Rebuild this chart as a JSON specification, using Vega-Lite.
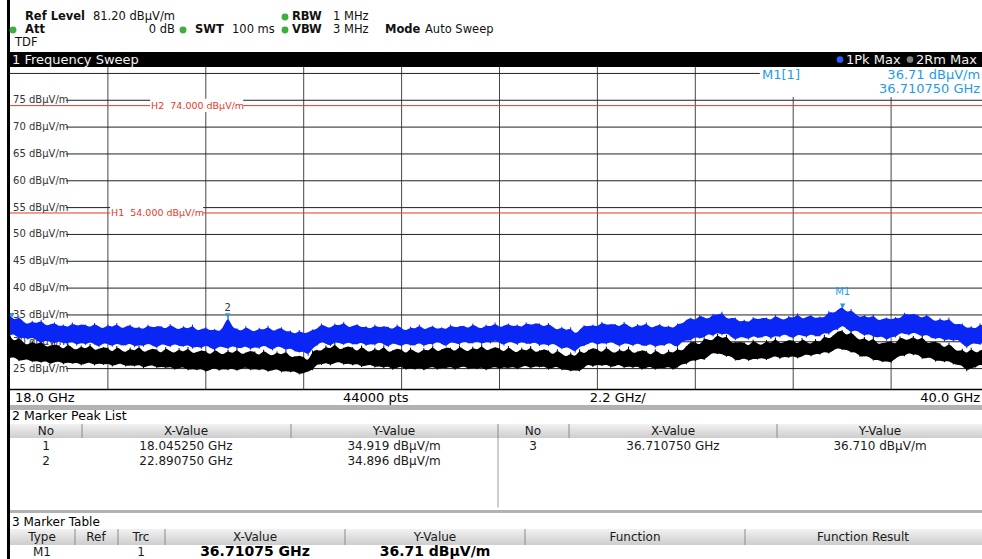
{
"$schema":"https://vega.github.io/schema/vega-lite/v6.json",
"padding":{"left":7,"top":0,"right":0,"bottom":0},
"background":"#ffffff",
"spacing":0,
"bounds":"flush",
"config":{"view":{"stroke":null},"axis":{"disable":true},"legend":{"disable":true},"font":"DejaVu Sans","concat":{"spacing":0}},
"datasets":{
"one":[{}],
"trace":[
{"f":18.0,"bu":34.9,"bl":31.2,"ku":31.1,"kl":27.0},
{"f":18.1,"bu":34.0,"bl":31.5,"ku":29.9,"kl":27.2},
{"f":18.2,"bu":34.7,"bl":30.5,"ku":30.9,"kl":26.4},
{"f":18.3,"bu":33.7,"bl":30.9,"ku":29.8,"kl":26.6},
{"f":18.4,"bu":33.2,"bl":30.4,"ku":29.3,"kl":26.8},
{"f":18.5,"bu":33.9,"bl":30.9,"ku":30.2,"kl":26.2},
{"f":18.6,"bu":33.3,"bl":30.3,"ku":29.3,"kl":26.5},
{"f":18.7,"bu":34.1,"bl":29.7,"ku":30.3,"kl":26.1},
{"f":18.8,"bu":32.9,"bl":30.3,"ku":28.9,"kl":26.5},
{"f":18.9,"bu":33.2,"bl":30.0,"ku":29.3,"kl":25.8},
{"f":19.0,"bu":33.6,"bl":29.6,"ku":29.5,"kl":26.2},
{"f":19.1,"bu":32.8,"bl":30.2,"ku":29.4,"kl":26.4},
{"f":19.2,"bu":33.2,"bl":29.7,"ku":28.4,"kl":25.8},
{"f":19.3,"bu":32.6,"bl":29.7,"ku":29.7,"kl":26.2},
{"f":19.4,"bu":33.6,"bl":30.1,"ku":28.8,"kl":25.9},
{"f":19.5,"bu":32.9,"bl":29.3,"ku":28.4,"kl":26.2},
{"f":19.6,"bu":33.2,"bl":29.9,"ku":29.3,"kl":25.6},
{"f":19.7,"bu":33.2,"bl":29.4,"ku":28.5,"kl":26.0},
{"f":19.8,"bu":32.6,"bl":30.1,"ku":29.6,"kl":26.2},
{"f":19.9,"bu":33.5,"bl":29.5,"ku":28.3,"kl":25.6},
{"f":20.0,"bu":32.8,"bl":29.0,"ku":28.7,"kl":26.0},
{"f":20.1,"bu":32.4,"bl":29.8,"ku":29.0,"kl":25.7},
{"f":20.2,"bu":33.2,"bl":29.6,"ku":28.9,"kl":26.0},
{"f":20.3,"bu":32.6,"bl":29.1,"ku":27.9,"kl":25.4},
{"f":20.4,"bu":33.5,"bl":29.8,"ku":29.2,"kl":25.8},
{"f":20.5,"bu":32.4,"bl":29.3,"ku":28.4,"kl":26.0},
{"f":20.6,"bu":32.8,"bl":29.3,"ku":27.9,"kl":25.4},
{"f":20.7,"bu":33.2,"bl":29.8,"ku":28.9,"kl":25.7},
{"f":20.8,"bu":32.4,"bl":29.0,"ku":28.1,"kl":25.4},
{"f":20.9,"bu":32.8,"bl":29.5,"ku":29.3,"kl":25.8},
{"f":21.0,"bu":32.2,"bl":29.1,"ku":27.9,"kl":25.1},
{"f":21.1,"bu":33.2,"bl":29.8,"ku":28.4,"kl":25.5},
{"f":21.2,"bu":32.6,"bl":29.3,"ku":28.7,"kl":25.7},
{"f":21.3,"bu":32.9,"bl":28.8,"ku":28.6,"kl":25.1},
{"f":21.4,"bu":32.9,"bl":29.6,"ku":27.7,"kl":25.4},
{"f":21.5,"bu":32.3,"bl":29.4,"ku":29.0,"kl":25.1},
{"f":21.6,"bu":33.3,"bl":29.0,"ku":28.2,"kl":25.4},
{"f":21.7,"bu":32.6,"bl":29.7,"ku":27.8,"kl":24.8},
{"f":21.8,"bu":32.2,"bl":29.2,"ku":28.8,"kl":25.1},
{"f":21.9,"bu":32.9,"bl":29.1,"ku":27.9,"kl":25.3},
{"f":22.0,"bu":32.3,"bl":29.5,"ku":29.0,"kl":24.7},
{"f":22.1,"bu":33.2,"bl":28.7,"ku":27.7,"kl":25.0},
{"f":22.2,"bu":32.0,"bl":29.2,"ku":28.1,"kl":24.7},
{"f":22.3,"bu":32.3,"bl":28.7,"ku":28.4,"kl":25.0},
{"f":22.4,"bu":32.7,"bl":29.4,"ku":28.3,"kl":24.4},
{"f":22.5,"bu":32.0,"bl":28.9,"ku":27.4,"kl":24.8},
{"f":22.6,"bu":32.4,"bl":28.4,"ku":28.7,"kl":25.2},
{"f":22.7,"bu":31.8,"bl":29.2,"ku":27.9,"kl":24.6},
{"f":22.8,"bu":32.8,"bl":29.0,"ku":27.5,"kl":25.0},
{"f":22.9,"bu":34.9,"bl":28.6,"ku":28.5,"kl":24.7},
{"f":23.0,"bu":32.5,"bl":29.3,"ku":27.6,"kl":25.1},
{"f":23.1,"bu":32.5,"bl":28.8,"ku":28.8,"kl":24.6},
{"f":23.2,"bu":31.9,"bl":28.8,"ku":27.5,"kl":25.0},
{"f":23.3,"bu":32.9,"bl":29.3,"ku":28.0,"kl":25.3},
{"f":23.4,"bu":32.2,"bl":28.5,"ku":28.3,"kl":24.7},
{"f":23.5,"bu":31.8,"bl":29.1,"ku":28.2,"kl":25.0},
{"f":23.6,"bu":32.6,"bl":28.7,"ku":27.3,"kl":24.7},
{"f":23.7,"bu":32.1,"bl":29.4,"ku":28.5,"kl":25.0},
{"f":23.8,"bu":33.0,"bl":28.9,"ku":27.7,"kl":24.4},
{"f":23.9,"bu":31.9,"bl":28.4,"ku":27.3,"kl":24.7},
{"f":24.0,"bu":32.3,"bl":29.2,"ku":28.2,"kl":25.0},
{"f":24.1,"bu":32.7,"bl":29.0,"ku":27.4,"kl":24.3},
{"f":24.2,"bu":31.8,"bl":28.4,"ku":28.4,"kl":24.6},
{"f":24.3,"bu":32.1,"bl":28.9,"ku":27.0,"kl":24.3},
{"f":24.4,"bu":31.3,"bl":28.2,"ku":27.3,"kl":24.6},
{"f":24.5,"bu":32.2,"bl":28.0,"ku":27.4,"kl":23.9},
{"f":24.6,"bu":31.5,"bl":28.3,"ku":27.2,"kl":24.2},
{"f":24.7,"bu":31.7,"bl":27.4,"ku":26.2,"kl":24.5},
{"f":24.8,"bu":32.3,"bl":28.9,"ku":28.4,"kl":24.7},
{"f":24.9,"bu":32.3,"bl":29.3,"ku":28.5,"kl":25.9},
{"f":25.0,"bu":33.4,"bl":30.1,"ku":28.2,"kl":25.7},
{"f":25.1,"bu":32.8,"bl":29.6,"ku":29.3,"kl":26.2},
{"f":25.2,"bu":32.5,"bl":29.2,"ku":28.5,"kl":25.6},
{"f":25.3,"bu":33.4,"bl":30.0,"ku":29.8,"kl":26.1},
{"f":25.4,"bu":32.9,"bl":29.8,"ku":28.4,"kl":26.3},
{"f":25.5,"bu":33.7,"bl":29.4,"ku":28.9,"kl":25.7},
{"f":25.6,"bu":32.6,"bl":30.0,"ku":29.1,"kl":26.0},
{"f":25.7,"bu":32.9,"bl":29.5,"ku":29.0,"kl":25.6},
{"f":25.8,"bu":33.3,"bl":29.5,"ku":28.0,"kl":26.0},
{"f":25.9,"bu":32.6,"bl":30.0,"ku":29.3,"kl":25.3},
{"f":26.0,"bu":32.9,"bl":29.2,"ku":28.4,"kl":25.6},
{"f":26.1,"bu":32.3,"bl":29.7,"ku":28.0,"kl":25.8},
{"f":26.2,"bu":33.2,"bl":29.3,"ku":28.9,"kl":25.2},
{"f":26.3,"bu":32.6,"bl":30.0,"ku":28.1,"kl":25.5},
{"f":26.4,"bu":32.9,"bl":29.5,"ku":29.3,"kl":25.1},
{"f":26.5,"bu":32.8,"bl":29.0,"ku":27.9,"kl":25.5},
{"f":26.6,"bu":32.2,"bl":29.8,"ku":28.4,"kl":24.8},
{"f":26.7,"bu":33.2,"bl":29.5,"ku":28.7,"kl":25.2},
{"f":26.8,"bu":32.5,"bl":29.1,"ku":28.6,"kl":25.4},
{"f":26.9,"bu":32.0,"bl":29.8,"ku":27.6,"kl":24.8},
{"f":27.0,"bu":32.8,"bl":29.3,"ku":28.9,"kl":25.1},
{"f":27.1,"bu":32.3,"bl":29.3,"ku":28.1,"kl":24.8},
{"f":27.2,"bu":33.2,"bl":29.9,"ku":27.8,"kl":25.2},
{"f":27.3,"bu":32.2,"bl":29.1,"ku":28.8,"kl":24.7},
{"f":27.4,"bu":32.6,"bl":29.7,"ku":28.1,"kl":25.1},
{"f":27.5,"bu":33.0,"bl":29.4,"ku":29.3,"kl":25.4},
{"f":27.6,"bu":32.3,"bl":30.1,"ku":28.0,"kl":24.8},
{"f":27.7,"bu":32.7,"bl":29.6,"ku":28.6,"kl":25.2},
{"f":27.8,"bu":32.2,"bl":29.1,"ku":28.9,"kl":25.0},
{"f":27.9,"bu":33.2,"bl":30.0,"ku":28.9,"kl":25.4},
{"f":28.0,"bu":32.6,"bl":29.8,"ku":28.0,"kl":24.8},
{"f":28.1,"bu":32.9,"bl":29.4,"ku":29.3,"kl":25.2},
{"f":28.2,"bu":33.0,"bl":30.2,"ku":28.5,"kl":25.5},
{"f":28.3,"bu":32.4,"bl":29.7,"ku":28.1,"kl":24.9},
{"f":28.4,"bu":33.4,"bl":29.7,"ku":29.1,"kl":25.2},
{"f":28.5,"bu":32.7,"bl":30.2,"ku":28.3,"kl":24.9},
{"f":28.6,"bu":32.4,"bl":29.5,"ku":29.5,"kl":25.3},
{"f":28.7,"bu":33.2,"bl":30.1,"ku":28.2,"kl":24.7},
{"f":28.8,"bu":32.7,"bl":29.7,"ku":28.7,"kl":25.1},
{"f":28.9,"bu":33.6,"bl":30.4,"ku":29.0,"kl":25.4},
{"f":29.0,"bu":32.6,"bl":29.8,"ku":28.8,"kl":24.9},
{"f":29.1,"bu":33.0,"bl":29.3,"ku":27.9,"kl":25.3},
{"f":29.2,"bu":33.4,"bl":30.1,"ku":29.2,"kl":25.0},
{"f":29.3,"bu":32.8,"bl":29.9,"ku":28.3,"kl":25.4},
{"f":29.4,"bu":33.2,"bl":29.4,"ku":27.9,"kl":24.9},
{"f":29.5,"bu":32.6,"bl":30.1,"ku":28.9,"kl":25.3},
{"f":29.6,"bu":33.6,"bl":29.6,"ku":28.1,"kl":25.6},
{"f":29.7,"bu":33.1,"bl":29.6,"ku":29.2,"kl":25.0},
{"f":29.8,"bu":33.4,"bl":30.0,"ku":27.9,"kl":25.5},
{"f":29.9,"bu":33.4,"bl":29.2,"ku":28.4,"kl":25.2},
{"f":30.0,"bu":32.7,"bl":29.7,"ku":28.6,"kl":25.5},
{"f":30.1,"bu":33.5,"bl":29.2,"ku":28.4,"kl":24.8},
{"f":30.2,"bu":32.7,"bl":29.8,"ku":27.4,"kl":25.2},
{"f":30.3,"bu":32.1,"bl":29.2,"ku":28.6,"kl":25.4},
{"f":30.4,"bu":32.8,"bl":28.6,"ku":27.7,"kl":24.7},
{"f":30.5,"bu":32.0,"bl":29.1,"ku":27.1,"kl":24.9},
{"f":30.6,"bu":32.7,"bl":28.7,"ku":28.0,"kl":24.5},
{"f":30.7,"bu":31.3,"bl":28.0,"ku":27.0,"kl":24.7},
{"f":30.8,"bu":32.2,"bl":29.2,"ku":28.6,"kl":24.5},
{"f":30.9,"bu":33.1,"bl":29.2,"ku":27.6,"kl":25.2},
{"f":31.0,"bu":32.8,"bl":29.6,"ku":28.5,"kl":25.9},
{"f":31.1,"bu":33.2,"bl":30.1,"ku":28.8,"kl":25.3},
{"f":31.2,"bu":32.7,"bl":29.3,"ku":28.7,"kl":25.8},
{"f":31.3,"bu":33.7,"bl":29.9,"ku":27.8,"kl":25.5},
{"f":31.4,"bu":33.1,"bl":29.5,"ku":29.1,"kl":25.8},
{"f":31.5,"bu":33.3,"bl":30.1,"ku":28.2,"kl":25.2},
{"f":31.6,"bu":33.3,"bl":29.6,"ku":27.8,"kl":25.5},
{"f":31.7,"bu":32.7,"bl":29.1,"ku":28.7,"kl":25.8},
{"f":31.8,"bu":33.7,"bl":29.8,"ku":27.9,"kl":25.1},
{"f":31.9,"bu":32.9,"bl":29.6,"ku":29.1,"kl":25.5},
{"f":32.0,"bu":32.5,"bl":29.2,"ku":27.7,"kl":25.1},
{"f":32.1,"bu":33.3,"bl":29.8,"ku":28.2,"kl":25.5},
{"f":32.2,"bu":32.8,"bl":29.3,"ku":28.4,"kl":24.8},
{"f":32.3,"bu":33.6,"bl":29.2,"ku":28.3,"kl":25.2},
{"f":32.4,"bu":32.5,"bl":29.7,"ku":27.3,"kl":25.4},
{"f":32.5,"bu":32.9,"bl":28.9,"ku":28.6,"kl":24.8},
{"f":32.6,"bu":33.3,"bl":29.5,"ku":27.8,"kl":25.2},
{"f":32.7,"bu":32.6,"bl":29.2,"ku":27.5,"kl":25.0},
{"f":32.8,"bu":33.0,"bl":29.9,"ku":28.5,"kl":25.4},
{"f":32.9,"bu":32.4,"bl":29.4,"ku":27.7,"kl":24.8},
{"f":33.0,"bu":33.4,"bl":28.9,"ku":28.9,"kl":25.2},
{"f":33.1,"bu":33.3,"bl":30.1,"ku":28.1,"kl":25.9},
{"f":33.2,"bu":34.1,"bl":30.3,"ku":29.2,"kl":25.8},
{"f":33.3,"bu":34.5,"bl":30.2,"ku":30.0,"kl":26.6},
{"f":33.4,"bu":33.9,"bl":31.0,"ku":30.0,"kl":26.4},
{"f":33.5,"bu":35.0,"bl":30.6,"ku":29.2,"kl":26.9},
{"f":33.6,"bu":34.5,"bl":30.8,"ku":30.8,"kl":26.6},
{"f":33.7,"bu":34.2,"bl":31.6,"ku":30.3,"kl":27.4},
{"f":33.8,"bu":35.2,"bl":31.0,"ku":30.2,"kl":28.0},
{"f":33.9,"bu":34.9,"bl":31.8,"ku":31.5,"kl":27.7},
{"f":34.0,"bu":35.6,"bl":31.2,"ku":30.4,"kl":27.8},
{"f":34.1,"bu":34.2,"bl":31.7,"ku":31.3,"kl":27.2},
{"f":34.2,"bu":34.4,"bl":31.0,"ku":29.7,"kl":27.4},
{"f":34.3,"bu":34.5,"bl":30.3,"ku":29.9,"kl":26.5},
{"f":34.4,"bu":33.6,"bl":30.9,"ku":29.9,"kl":26.6},
{"f":34.5,"bu":34.1,"bl":30.8,"ku":29.9,"kl":27.0},
{"f":34.6,"bu":33.5,"bl":30.4,"ku":29.0,"kl":26.4},
{"f":34.7,"bu":34.6,"bl":31.2,"ku":30.4,"kl":26.9},
{"f":34.8,"bu":34.1,"bl":30.7,"ku":29.6,"kl":26.7},
{"f":34.9,"bu":34.4,"bl":30.8,"ku":29.3,"kl":27.1},
{"f":35.0,"bu":34.5,"bl":31.3,"ku":30.3,"kl":26.6},
{"f":35.1,"bu":33.9,"bl":30.5,"ku":29.5,"kl":27.0},
{"f":35.2,"bu":35.0,"bl":31.2,"ku":30.8,"kl":27.4},
{"f":35.3,"bu":34.3,"bl":30.8,"ku":29.5,"kl":26.8},
{"f":35.4,"bu":34.0,"bl":31.5,"ku":30.0,"kl":27.3},
{"f":35.5,"bu":34.8,"bl":31.0,"ku":30.3,"kl":27.0},
{"f":35.6,"bu":34.3,"bl":30.6,"ku":30.3,"kl":27.4},
{"f":35.7,"bu":35.3,"bl":31.4,"ku":29.4,"kl":26.9},
{"f":35.8,"bu":34.2,"bl":31.2,"ku":30.7,"kl":27.3},
{"f":35.9,"bu":34.6,"bl":30.8,"ku":29.9,"kl":27.7},
{"f":36.0,"bu":35.0,"bl":31.5,"ku":29.5,"kl":27.3},
{"f":36.1,"bu":34.3,"bl":31.0,"ku":30.5,"kl":27.8},
{"f":36.2,"bu":34.7,"bl":31.0,"ku":29.7,"kl":27.6},
{"f":36.3,"bu":34.4,"bl":31.8,"ku":31.3,"kl":28.2},
{"f":36.4,"bu":35.7,"bl":31.3,"ku":30.4,"kl":27.8},
{"f":36.5,"bu":35.3,"bl":32.3,"ku":31.2,"kl":28.4},
{"f":36.6,"bu":35.9,"bl":32.2,"ku":31.9,"kl":28.9},
{"f":36.7,"bu":36.7,"bl":33.2,"ku":32.2,"kl":28.5},
{"f":36.8,"bu":35.3,"bl":32.4,"ku":31.0,"kl":28.6},
{"f":36.9,"bu":36.1,"bl":31.7,"ku":32.0,"kl":28.0},
{"f":37.0,"bu":35.1,"bl":32.2,"ku":30.9,"kl":28.1},
{"f":37.1,"bu":34.5,"bl":31.7,"ku":30.2,"kl":27.2},
{"f":37.2,"bu":35.0,"bl":31.1,"ku":30.9,"kl":27.3},
{"f":37.3,"bu":34.3,"bl":31.5,"ku":29.8,"kl":27.3},
{"f":37.4,"bu":35.1,"bl":30.9,"ku":30.9,"kl":26.5},
{"f":37.5,"bu":33.9,"bl":30.8,"ku":29.4,"kl":26.7},
{"f":37.6,"bu":34.2,"bl":31.1,"ku":29.8,"kl":26.2},
{"f":37.7,"bu":34.5,"bl":30.2,"ku":29.9,"kl":26.4},
{"f":37.8,"bu":34.0,"bl":31.0,"ku":30.1,"kl":26.1},
{"f":37.9,"bu":34.6,"bl":30.8,"ku":29.4,"kl":26.9},
{"f":38.0,"bu":34.2,"bl":31.7,"ku":31.0,"kl":27.5},
{"f":38.1,"bu":35.4,"bl":31.5,"ku":30.4,"kl":27.3},
{"f":38.2,"bu":35.0,"bl":31.2,"ku":30.3,"kl":28.0},
{"f":38.3,"bu":35.2,"bl":31.8,"ku":31.1,"kl":27.5},
{"f":38.4,"bu":35.0,"bl":31.4,"ku":30.1,"kl":27.7},
{"f":38.5,"bu":34.3,"bl":30.9,"ku":31.1,"kl":26.8},
{"f":38.6,"bu":35.1,"bl":31.4,"ku":29.6,"kl":27.0},
{"f":38.7,"bu":34.3,"bl":30.7,"ku":29.9,"kl":27.1},
{"f":38.8,"bu":33.7,"bl":30.5,"ku":30.0,"kl":26.3},
{"f":38.9,"bu":34.4,"bl":30.9,"ku":29.7,"kl":26.6},
{"f":39.0,"bu":33.7,"bl":30.1,"ku":28.7,"kl":26.2},
{"f":39.1,"bu":34.5,"bl":30.6,"ku":29.8,"kl":26.5},
{"f":39.2,"bu":33.2,"bl":30.1,"ku":28.8,"kl":25.8},
{"f":39.3,"bu":33.3,"bl":30.5,"ku":28.1,"kl":25.7},
{"f":39.4,"bu":33.4,"bl":29.6,"ku":28.7,"kl":25.6},
{"f":39.5,"bu":32.4,"bl":28.8,"ku":27.6,"kl":24.5},
{"f":39.6,"bu":32.9,"bl":29.7,"ku":28.9,"kl":25.2},
{"f":39.7,"bu":32.3,"bl":29.7,"ku":27.8,"kl":25.2},
{"f":39.8,"bu":33.4,"bl":29.4,"ku":28.4,"kl":25.9},
{"f":39.9,"bu":32.8,"bl":30.1,"ku":28.7,"kl":25.3},
{"f":40.0,"bu":33.1,"bl":29.6,"ku":28.6,"kl":25.7}
],
"gridh":[
{"db":25,"label":"25 dBµV/m"},{"db":30,"label":"30 dBµV/m"},{"db":35,"label":"35 dBµV/m"},{"db":40,"label":"40 dBµV/m"},{"db":45,"label":"45 dBµV/m"},{"db":50,"label":"50 dBµV/m"},{"db":55,"label":"55 dBµV/m"},{"db":60,"label":"60 dBµV/m"},{"db":65,"label":"65 dBµV/m"},{"db":70,"label":"70 dBµV/m"},{"db":75,"label":"75 dBµV/m"}
],
"gridv":[{"f":20.2},{"f":22.4},{"f":24.6},{"f":26.8},{"f":29.0},{"f":31.2},{"f":33.4},{"f":35.6},{"f":37.8}],
"limits":[{"name":"H1","level":54,"label":"H1\u00a0\u00a054.000 dBµV/m"},{"name":"H2","level":74,"label":"H2\u00a0\u00a074.000 dBµV/m"}],
"markers":[{"no":1,"f":18.04525,"db":34.919,"label":"1"},{"no":2,"f":22.89075,"db":34.896,"label":"2"},{"no":3,"f":36.71075,"db":36.71,"label":"M1"}],
"header":[
{"row":0,"col":2,"kind":"label","text":"Ref Level"},
{"row":0,"col":3,"kind":"value","text":"81.20 dBµV/m"},
{"row":0,"col":7,"kind":"dot","text":""},
{"row":0,"col":8,"kind":"label","text":"RBW"},
{"row":0,"col":9,"kind":"value","text":"1 MHz"},
{"row":1,"col":0,"kind":"dot","text":""},
{"row":1,"col":2,"kind":"label","text":"Att"},
{"row":1,"col":3,"kind":"value","text":"0 dB"},
{"row":1,"col":4,"kind":"dot","text":""},
{"row":1,"col":5,"kind":"label","text":"SWT"},
{"row":1,"col":6,"kind":"value","text":"100 ms"},
{"row":1,"col":7,"kind":"dot","text":""},
{"row":1,"col":8,"kind":"label","text":"VBW"},
{"row":1,"col":9,"kind":"value","text":"3 MHz"},
{"row":1,"col":10,"kind":"label","text":"Mode"},
{"row":1,"col":11,"kind":"value","text":"Auto Sweep"},
{"row":2,"col":1,"kind":"value","text":"TDF"}
],
"titlebar":[
{"col":0,"kind":"title","text":"1 Frequency Sweep"},
{"col":1,"kind":"dot","text":"1Pk"},
{"col":2,"kind":"trace","text":"1Pk Max"},
{"col":3,"kind":"dot","text":"2Rm"},
{"col":4,"kind":"trace","text":"2Rm Max"}
],
"peak":[
{"col":0,"row":0,"text":"No"},{"col":1,"row":0,"text":"X-Value"},{"col":2,"row":0,"text":"Y-Value"},
{"col":3,"row":0,"text":"No"},{"col":4,"row":0,"text":"X-Value"},{"col":5,"row":0,"text":"Y-Value"},
{"col":0,"row":1,"text":"1"},{"col":1,"row":1,"text":"18.045250 GHz"},{"col":2,"row":1,"text":"34.919 dBµV/m"},
{"col":3,"row":1,"text":"3"},{"col":4,"row":1,"text":"36.710750 GHz"},{"col":5,"row":1,"text":"36.710 dBµV/m"},
{"col":0,"row":2,"text":"2"},{"col":1,"row":2,"text":"22.890750 GHz"},{"col":2,"row":2,"text":"34.896 dBµV/m"}
],
"peakseps":[{"b":0.5},{"b":1.5},{"b":2.5},{"b":3.5},{"b":4.5}],
"mtable":[
{"col":0,"row":0,"text":"Type"},{"col":1,"row":0,"text":"Ref"},{"col":2,"row":0,"text":"Trc"},{"col":3,"row":0,"text":"X-Value"},{"col":4,"row":0,"text":"Y-Value"},{"col":5,"row":0,"text":"Function"},{"col":6,"row":0,"text":"Function Result"},
{"col":0,"row":1,"text":"M1"},{"col":2,"row":1,"text":"1"},{"col":3,"row":1,"text":"36.71075 GHz"},{"col":4,"row":1,"text":"36.71 dBµV/m"}
],
"mtseps":[{"b":0.5},{"b":1.5},{"b":2.5},{"b":3.5},{"b":4.5},{"b":5.5}]
},
"hconcat":[
{"width":3,"height":559,"view":{"fill":"#000000","stroke":null},"data":{"name":"one"},"mark":{"type":"text"},"encoding":{"text":{"value":""}}},
{"spacing":0,"bounds":"flush","vconcat":[
{"width":972,"height":52,"data":{"name":"header"},
 "encoding":{"x":{"field":"col","type":"quantitative","scale":{"domain":[0,1,2,3,4,5,6,7,8,9,10,11],"range":[3,5,15,165,173,185,222,275,282,323,375,415],"zero":false,"nice":false}},
             "y":{"field":"row","type":"quantitative","scale":{"domain":[-1.308,2.692],"reverse":true,"zero":false,"nice":false}}},
 "layer":[
  {"transform":[{"filter":"datum.kind == 'dot'"}],"mark":{"type":"point","filled":true,"shape":"circle","size":48,"color":"#3fae3f","opacity":1}},
  {"transform":[{"filter":"datum.kind == 'label'"}],"mark":{"type":"text","align":"left","baseline":"middle","fontSize":11.5,"fontWeight":"bold","color":"#111111"},"encoding":{"text":{"field":"text"}}},
  {"transform":[{"filter":"datum.kind == 'value' && datum.col != 3"}],"mark":{"type":"text","align":"left","baseline":"middle","fontSize":11.5,"color":"#111111"},"encoding":{"text":{"field":"text"}}},
  {"transform":[{"filter":"datum.kind == 'value' && datum.col == 3"}],"mark":{"type":"text","align":"right","baseline":"middle","fontSize":11.5,"color":"#111111"},"encoding":{"text":{"field":"text"}}}
 ]},
{"width":972,"height":15,"view":{"fill":"#000000"},"data":{"name":"titlebar"},
 "encoding":{"x":{"field":"col","type":"quantitative","scale":{"domain":[0,1,2,3,4],"range":[2,830,836,900,906],"zero":false,"nice":false}},
             "y":{"datum":0.5,"type":"quantitative","scale":{"domain":[0,1],"zero":false,"nice":false}}},
 "layer":[
  {"transform":[{"filter":"datum.kind == 'dot'"}],"mark":{"type":"point","filled":true,"shape":"circle","size":45,"opacity":1},"encoding":{"color":{"field":"text","type":"nominal","scale":{"domain":["1Pk","2Rm"],"range":["#2b5bff","#808080"]},"legend":null}}},
  {"transform":[{"filter":"datum.kind != 'dot'"}],"mark":{"type":"text","align":"left","baseline":"middle","fontSize":13,"color":"#f2f2f2"},"encoding":{"text":{"field":"text"}}}
 ]},
{"width":972,"height":322,
 "layer":[
  {"data":{"name":"gridv"},"mark":{"type":"rule","color":"#484848","strokeWidth":1,"clip":true},"encoding":{"x":{"field":"f","type":"quantitative","scale":{"domain":[18,39.8427],"zero":false,"nice":false}},"y":{"datum":21.2,"type":"quantitative","scale":{"domain":[21.2,81.2],"zero":false,"nice":false}},"y2":{"datum":81.2}}},
  {"data":{"name":"gridh"},"mark":{"type":"rule","color":"#222222","strokeWidth":1,"clip":true},"encoding":{"x":{"datum":19.26,"type":"quantitative","scale":{"domain":[18,39.8427],"zero":false,"nice":false}},"x2":{"datum":39.8427},"y":{"field":"db","type":"quantitative","scale":{"domain":[21.2,81.2],"zero":false,"nice":false}}}},
  {"data":{"values":[{"db":80}]},"mark":{"type":"rule","color":"#222222","strokeWidth":1,"clip":true},"encoding":{"x":{"datum":18,"type":"quantitative","scale":{"domain":[18,39.8427],"zero":false,"nice":false}},"x2":{"datum":39.8427},"y":{"field":"db","type":"quantitative","scale":{"domain":[21.2,81.2],"zero":false,"nice":false}}}},
  {"data":{"name":"limits"},"mark":{"type":"rule","color":"#e4392b","strokeWidth":1,"clip":true},"encoding":{"x":{"datum":18,"type":"quantitative","scale":{"domain":[18,39.8427],"zero":false,"nice":false}},"x2":{"datum":39.8427},"y":{"field":"level","type":"quantitative","scale":{"domain":[21.2,81.2],"zero":false,"nice":false}}}},
  {"data":{"name":"limits"},"transform":[{"filter":"datum.name == 'H2'"}],"mark":{"type":"rect","color":"#ffffff"},"encoding":{"x":{"datum":21.15,"type":"quantitative","scale":{"domain":[18,39.8427],"zero":false,"nice":false}},"x2":{"datum":23.24},"y":{"datum":72.8,"type":"quantitative","scale":{"domain":[21.2,81.2],"zero":false,"nice":false}},"y2":{"datum":75.3}}},
  {"data":{"name":"limits"},"transform":[{"filter":"datum.name == 'H1'"}],"mark":{"type":"rect","color":"#ffffff"},"encoding":{"x":{"datum":20.25,"type":"quantitative","scale":{"domain":[18,39.8427],"zero":false,"nice":false}},"x2":{"datum":22.34},"y":{"datum":52.8,"type":"quantitative","scale":{"domain":[21.2,81.2],"zero":false,"nice":false}},"y2":{"datum":55.3}}},
  {"data":{"name":"limits"},"transform":[{"filter":"datum.name == 'H2'"}],"mark":{"type":"text","align":"left","baseline":"middle","fontSize":9.5,"color":"#e4392b"},"encoding":{"x":{"datum":21.17,"type":"quantitative","scale":{"domain":[18,39.8427],"zero":false,"nice":false}},"y":{"field":"level","type":"quantitative","scale":{"domain":[21.2,81.2],"zero":false,"nice":false}},"text":{"field":"label"}}},
  {"data":{"name":"limits"},"transform":[{"filter":"datum.name == 'H1'"}],"mark":{"type":"text","align":"left","baseline":"middle","fontSize":9.5,"color":"#e4392b"},"encoding":{"x":{"datum":20.27,"type":"quantitative","scale":{"domain":[18,39.8427],"zero":false,"nice":false}},"y":{"field":"level","type":"quantitative","scale":{"domain":[21.2,81.2],"zero":false,"nice":false}},"text":{"field":"label"}}},
  {"data":{"name":"gridh"},"mark":{"type":"text","align":"left","baseline":"middle","fontSize":10,"color":"#333333"},"encoding":{"x":{"datum":18.07,"type":"quantitative","scale":{"domain":[18,39.8427],"zero":false,"nice":false}},"y":{"field":"db","type":"quantitative","scale":{"domain":[21.2,81.2],"zero":false,"nice":false}},"text":{"field":"label"}}},
  {"data":{"name":"trace"},"mark":{"type":"rule","color":"#000000","strokeWidth":1,"clip":true},"encoding":{"x":{"field":"f","type":"quantitative","scale":{"domain":[18,39.8427],"zero":false,"nice":false}},"y":{"field":"ku","type":"quantitative","scale":{"domain":[21.2,81.2],"zero":false,"nice":false}},"y2":{"field":"kl"}}},
  {"data":{"name":"trace"},"mark":{"type":"area","color":"#000000","interpolate":"basis","clip":true},"encoding":{"x":{"field":"f","type":"quantitative","scale":{"domain":[18,39.8427],"zero":false,"nice":false}},"y":{"field":"ku","type":"quantitative","scale":{"domain":[21.2,81.2],"zero":false,"nice":false}},"y2":{"field":"kl"}}},
  {"data":{"name":"trace"},"mark":{"type":"rule","color":"#0a26f4","strokeWidth":1,"clip":true},"encoding":{"x":{"field":"f","type":"quantitative","scale":{"domain":[18,39.8427],"zero":false,"nice":false}},"y":{"field":"bu","type":"quantitative","scale":{"domain":[21.2,81.2],"zero":false,"nice":false}},"y2":{"field":"bl"}}},
  {"data":{"name":"trace"},"mark":{"type":"area","color":"#0a26f4","interpolate":"basis","clip":true},"encoding":{"x":{"field":"f","type":"quantitative","scale":{"domain":[18,39.8427],"zero":false,"nice":false}},"y":{"field":"bu","type":"quantitative","scale":{"domain":[21.2,81.2],"zero":false,"nice":false}},"y2":{"field":"bl"}}},
  {"data":{"name":"one"},"mark":{"type":"rect","color":"#ffffff","clip":true},"encoding":{"x":{"datum":34.85,"type":"quantitative","scale":{"domain":[18,39.8427],"zero":false,"nice":false}},"x2":{"datum":39.8427},"y":{"datum":75.6,"type":"quantitative","scale":{"domain":[21.2,81.2],"zero":false,"nice":false}},"y2":{"datum":81.2}}},
  {"data":{"name":"one"},"mark":{"type":"text","align":"left","baseline":"middle","fontSize":13,"color":"#1f9be8","clip":true},"encoding":{"x":{"datum":34.9,"type":"quantitative","scale":{"domain":[18,39.8427],"zero":false,"nice":false}},"y":{"datum":79.7,"type":"quantitative","scale":{"domain":[21.2,81.2],"zero":false,"nice":false}},"text":{"value":"M1[1]"}}},
  {"data":{"name":"one"},"mark":{"type":"text","align":"right","baseline":"middle","fontSize":13,"color":"#1f9be8","clip":true},"encoding":{"x":{"datum":39.8,"type":"quantitative","scale":{"domain":[18,39.8427],"zero":false,"nice":false}},"y":{"datum":79.7,"type":"quantitative","scale":{"domain":[21.2,81.2],"zero":false,"nice":false}},"text":{"value":"36.71 dBµV/m"}}},
  {"data":{"name":"one"},"mark":{"type":"text","align":"right","baseline":"middle","fontSize":13,"color":"#1f9be8","clip":true},"encoding":{"x":{"datum":39.8,"type":"quantitative","scale":{"domain":[18,39.8427],"zero":false,"nice":false}},"y":{"datum":77.1,"type":"quantitative","scale":{"domain":[21.2,81.2],"zero":false,"nice":false}},"text":{"value":"36.710750 GHz"}}},
  {"data":{"name":"markers"},"mark":{"type":"point","shape":"triangle-down","filled":true,"size":30,"color":"#1f9be8","opacity":1,"clip":true},"encoding":{"x":{"field":"f","type":"quantitative","scale":{"domain":[18,39.8427],"zero":false,"nice":false}},"y":{"field":"db","type":"quantitative","scale":{"domain":[21.2,81.2],"zero":false,"nice":false}}}},
  {"data":{"name":"markers"},"transform":[{"filter":"datum.label == '2'"}],"mark":{"type":"text","baseline":"middle","fontSize":10,"color":"#333333","dy":-7,"clip":true},"encoding":{"x":{"field":"f","type":"quantitative","scale":{"domain":[18,39.8427],"zero":false,"nice":false}},"y":{"field":"db","type":"quantitative","scale":{"domain":[21.2,81.2],"zero":false,"nice":false}},"text":{"field":"label"}}},
  {"data":{"name":"markers"},"transform":[{"filter":"datum.label == 'M1'"}],"mark":{"type":"text","baseline":"middle","fontSize":10,"color":"#1f9be8","dy":-14,"clip":true},"encoding":{"x":{"field":"f","type":"quantitative","scale":{"domain":[18,39.8427],"zero":false,"nice":false}},"y":{"field":"db","type":"quantitative","scale":{"domain":[21.2,81.2],"zero":false,"nice":false}},"text":{"field":"label"}}}
 ]},
{"width":972,"height":16,"data":{"name":"one"},
 "layer":[
  {"mark":{"type":"rule","color":"#000000","strokeWidth":1.5},"encoding":{"x":{"datum":18,"type":"quantitative","scale":{"domain":[18,39.8427],"zero":false,"nice":false}},"x2":{"datum":39.8427},"y":{"datum":0.97,"type":"quantitative","scale":{"domain":[0,1],"zero":false,"nice":false}}}},
  {"mark":{"type":"text","align":"left","baseline":"middle","fontSize":13,"color":"#000000"},"encoding":{"x":{"datum":18.11,"type":"quantitative","scale":{"domain":[18,39.8427],"zero":false,"nice":false}},"y":{"datum":0.45,"type":"quantitative","scale":{"domain":[0,1],"zero":false,"nice":false}},"text":{"value":"18.0 GHz"}}},
  {"mark":{"type":"text","align":"center","baseline":"middle","fontSize":13,"color":"#000000"},"encoding":{"x":{"datum":26.22,"type":"quantitative","scale":{"domain":[18,39.8427],"zero":false,"nice":false}},"y":{"datum":0.45,"type":"quantitative","scale":{"domain":[0,1],"zero":false,"nice":false}},"text":{"value":"44000 pts"}}},
  {"mark":{"type":"text","align":"left","baseline":"middle","fontSize":13,"color":"#000000"},"encoding":{"x":{"datum":31.03,"type":"quantitative","scale":{"domain":[18,39.8427],"zero":false,"nice":false}},"y":{"datum":0.45,"type":"quantitative","scale":{"domain":[0,1],"zero":false,"nice":false}},"text":{"value":"2.2 GHz/"}}},
  {"mark":{"type":"text","align":"right","baseline":"middle","fontSize":13,"color":"#000000","clip":true},"encoding":{"x":{"datum":39.8,"type":"quantitative","scale":{"domain":[18,39.8427],"zero":false,"nice":false}},"y":{"datum":0.45,"type":"quantitative","scale":{"domain":[0,1],"zero":false,"nice":false}},"text":{"value":"40.0 GHz"}}}
 ]},
{"width":972,"height":5,"view":{"fill":"#b2b2b2"},"data":{"name":"one"},"mark":{"type":"text"},"encoding":{"text":{"value":""}}},
{"width":972,"height":100,
 "layer":[
  {"data":{"name":"one"},"mark":{"type":"rect","color":{"gradient":"linear","x1":0,"y1":0,"x2":0,"y2":1,"stops":[{"offset":0,"color":"#f2f2f2"},{"offset":1,"color":"#cdcdcd"}]}},"encoding":{"x":{"datum":-0.5,"type":"quantitative","scale":{"domain":[-0.5,0,0.5,1,1.5,2,2.5,3,3.5,4,4.5,5,5.5],"range":[0,36,72,176,281,384,488,523,559,663,767,870,972],"zero":false,"nice":false}},"x2":{"datum":5.5},"y":{"datum":-0.47,"type":"quantitative","scale":{"domain":[-1.4,5.2667],"reverse":true,"zero":false,"nice":false}},"y2":{"datum":0.47}}},
  {"data":{"name":"peakseps"},"mark":{"type":"rule","color":"#8a8a8a","strokeWidth":1},"encoding":{"x":{"field":"b","type":"quantitative","scale":{"domain":[-0.5,0,0.5,1,1.5,2,2.5,3,3.5,4,4.5,5,5.5],"range":[0,36,72,176,281,384,488,523,559,663,767,870,972],"zero":false,"nice":false}},"y":{"datum":-0.47,"type":"quantitative","scale":{"domain":[-1.4,5.2667],"reverse":true,"zero":false,"nice":false}},"y2":{"datum":0.47}}},
  {"data":{"name":"one"},"mark":{"type":"rule","color":"#9a9a9a","strokeWidth":1},"encoding":{"x":{"datum":2.5,"type":"quantitative","scale":{"domain":[-0.5,0,0.5,1,1.5,2,2.5,3,3.5,4,4.5,5,5.5],"range":[0,36,72,176,281,384,488,523,559,663,767,870,972],"zero":false,"nice":false}},"y":{"datum":0.47,"type":"quantitative","scale":{"domain":[-1.4,5.2667],"reverse":true,"zero":false,"nice":false}},"y2":{"datum":5.1}}},
  {"data":{"name":"one"},"mark":{"type":"text","align":"left","baseline":"middle","fontSize":12.5,"color":"#000000","dx":2},"encoding":{"x":{"datum":-0.5,"type":"quantitative","scale":{"domain":[-0.5,0,0.5,1,1.5,2,2.5,3,3.5,4,4.5,5,5.5],"range":[0,36,72,176,281,384,488,523,559,663,767,870,972],"zero":false,"nice":false}},"y":{"datum":-1,"type":"quantitative","scale":{"domain":[-1.4,5.2667],"reverse":true,"zero":false,"nice":false}},"text":{"value":"2 Marker Peak List"}}},
  {"data":{"name":"peak"},"mark":{"type":"text","align":"center","baseline":"middle","fontSize":12,"color":"#1a1a1a"},"encoding":{"x":{"field":"col","type":"quantitative","scale":{"domain":[-0.5,0,0.5,1,1.5,2,2.5,3,3.5,4,4.5,5,5.5],"range":[0,36,72,176,281,384,488,523,559,663,767,870,972],"zero":false,"nice":false}},"y":{"field":"row","type":"quantitative","scale":{"domain":[-1.4,5.2667],"reverse":true,"zero":false,"nice":false}},"text":{"field":"text"}}}
 ]},
{"width":972,"height":3,"view":{"fill":"#b2b2b2"},"data":{"name":"one"},"mark":{"type":"text"},"encoding":{"text":{"value":""}}},
{"width":972,"height":46,
 "layer":[
  {"data":{"name":"one"},"mark":{"type":"rect","color":{"gradient":"linear","x1":0,"y1":0,"x2":0,"y2":1,"stops":[{"offset":0,"color":"#f2f2f2"},{"offset":1,"color":"#cdcdcd"}]}},"encoding":{"x":{"datum":-0.5,"type":"quantitative","scale":{"domain":[-0.5,0,0.5,1,1.5,2,2.5,3,3.5,4,4.5,5,5.5,6,6.5],"range":[0,32,65,86,108,131,155,245,335,425,515,625,735,853,972],"zero":false,"nice":false}},"x2":{"datum":6.5},"y":{"datum":-0.533,"type":"quantitative","scale":{"domain":[-1.6,1.4667],"reverse":true,"zero":false,"nice":false}},"y2":{"datum":0.533}}},
  {"data":{"name":"mtseps"},"mark":{"type":"rule","color":"#8a8a8a","strokeWidth":1},"encoding":{"x":{"field":"b","type":"quantitative","scale":{"domain":[-0.5,0,0.5,1,1.5,2,2.5,3,3.5,4,4.5,5,5.5,6,6.5],"range":[0,32,65,86,108,131,155,245,335,425,515,625,735,853,972],"zero":false,"nice":false}},"y":{"datum":-0.533,"type":"quantitative","scale":{"domain":[-1.6,1.4667],"reverse":true,"zero":false,"nice":false}},"y2":{"datum":0.533}}},
  {"data":{"name":"one"},"mark":{"type":"text","align":"left","baseline":"middle","fontSize":12,"color":"#000000","dx":2},"encoding":{"x":{"datum":-0.5,"type":"quantitative","scale":{"domain":[-0.5,0,0.5,1,1.5,2,2.5,3,3.5,4,4.5,5,5.5,6,6.5],"range":[0,32,65,86,108,131,155,245,335,425,515,625,735,853,972],"zero":false,"nice":false}},"y":{"datum":-1,"type":"quantitative","scale":{"domain":[-1.6,1.4667],"reverse":true,"zero":false,"nice":false}},"text":{"value":"3 Marker Table"}}},
  {"data":{"name":"mtable"},"transform":[{"filter":"!(datum.row == 1 && datum.col >= 3)"}],"mark":{"type":"text","align":"center","baseline":"middle","fontSize":12,"color":"#1a1a1a","clip":true},"encoding":{"x":{"field":"col","type":"quantitative","scale":{"domain":[-0.5,0,0.5,1,1.5,2,2.5,3,3.5,4,4.5,5,5.5,6,6.5],"range":[0,32,65,86,108,131,155,245,335,425,515,625,735,853,972],"zero":false,"nice":false}},"y":{"field":"row","type":"quantitative","scale":{"domain":[-1.6,1.4667],"reverse":true,"zero":false,"nice":false}},"text":{"field":"text"}}},
  {"data":{"name":"mtable"},"transform":[{"filter":"datum.row == 1 && datum.col >= 3"}],"mark":{"type":"text","align":"center","baseline":"middle","fontSize":14,"fontWeight":"bold","color":"#000000","clip":true},"encoding":{"x":{"field":"col","type":"quantitative","scale":{"domain":[-0.5,0,0.5,1,1.5,2,2.5,3,3.5,4,4.5,5,5.5,6,6.5],"range":[0,32,65,86,108,131,155,245,335,425,515,625,735,853,972],"zero":false,"nice":false}},"y":{"field":"row","type":"quantitative","scale":{"domain":[-1.6,1.4667],"reverse":true,"zero":false,"nice":false}},"text":{"field":"text"}}}
 ]}
]}
]
}
